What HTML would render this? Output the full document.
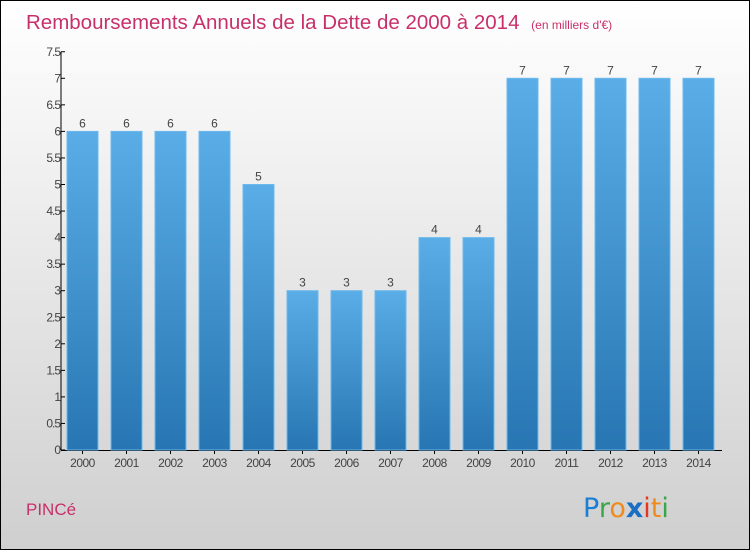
<!DOCTYPE html>
<html><head><meta charset="utf-8"><style>
body{margin:0}
#c{width:748px;height:548px;border:1px solid #000;background:linear-gradient(#fff,#cfcfcf);position:relative;font-family:"Liberation Sans",sans-serif;overflow:hidden}
</style></head><body>
<div id="c">
<svg id="s" width="748" height="548">
<defs><linearGradient id="g" x1="0" y1="0" x2="0" y2="1"><stop offset="0" stop-color="#5aade6"/><stop offset="1" stop-color="#2776b3"/></linearGradient></defs>
<text x="25" y="28" font-size="20.5" fill="#c8306a">Remboursements Annuels de la Dette de 2000 à 2014 <tspan font-size="12" dx="6">(en milliers d'€)</tspan></text>
<text x="25" y="514" font-size="17" fill="#c8306a">PINCé</text>
<g font-size="27">
<text x="582" y="516" font-family="'DejaVu Sans',sans-serif"><tspan fill="#1a7fd4">P</tspan><tspan fill="#3aa64a">r</tspan><tspan fill="#f08a1c">o</tspan><tspan fill="#1a6fc4" font-weight="bold">x</tspan><tspan fill="#e8361c">i</tspan><tspan fill="#f08a1c">t</tspan><tspan fill="#3aa64a">i</tspan></text></g>
<g id="ax"></g><g id="bars"></g>
</svg></div>
<script>
const categories=["2000","2001","2002","2003","2004","2005","2006","2007","2008","2009","2010","2011","2012","2013","2014"];
const values=[6,6,6,6,5,3,3,3,4,4,7,7,7,7,7];
const yTicks=[0,0.5,1,1.5,2,2.5,3,3.5,4,4.5,5,5.5,6,6.5,7,7.5];
const NS="http://www.w3.org/2000/svg";
const y=v=>449-v*53.1;
const x=i=>66+i*44;
function mk(t,a,p){const e=document.createElementNS(NS,t);for(const k in a)e.setAttribute(k,a[k]);p.appendChild(e);return e;}
const ax=document.getElementById('ax'),bars=document.getElementById('bars');
const yl=mk('line',{x1:60,y1:y(7.5),x2:60,y2:y(0),stroke:'#000'},ax);


const xl=mk('line',{x1:60,y1:y(0)+0.5,x2:721,y2:y(0)+0.5,stroke:'#000'},ax);


yTicks.forEach(v=>{
 mk('line',{x1:60,y1:y(v),x2:64,y2:y(v),stroke:'#000'},ax);
 const t=mk('text',{x:59,y:y(v)+4,'text-anchor':'end','font-size':12,fill:'#444','letter-spacing':'-1'},ax);
 t.textContent=String(v);
 
 
});
categories.forEach((c,i)=>{
 const v=values[i];
 const r=mk('rect',{x:x(i),y:y(v),width:31,height:y(0)-y(v),fill:'url(#g)',stroke:'#6db8ec','stroke-width':1},bars);
 
 
 const l=mk('text',{x:x(i)+15.5,y:y(v)-4,'text-anchor':'middle','font-size':12,fill:'#444'},bars);
 l.textContent=String(v);
 
 
 mk('line',{x1:x(i)+15.5,y1:y(0),x2:x(i)+15.5,y2:y(0)+4,stroke:'#000'},ax);
 const t=mk('text',{x:x(i)+15.5,y:466,'text-anchor':'middle','font-size':12,fill:'#444','letter-spacing':'-0.5'},ax);
 t.textContent=c;
 
 
});
</script></body></html>
